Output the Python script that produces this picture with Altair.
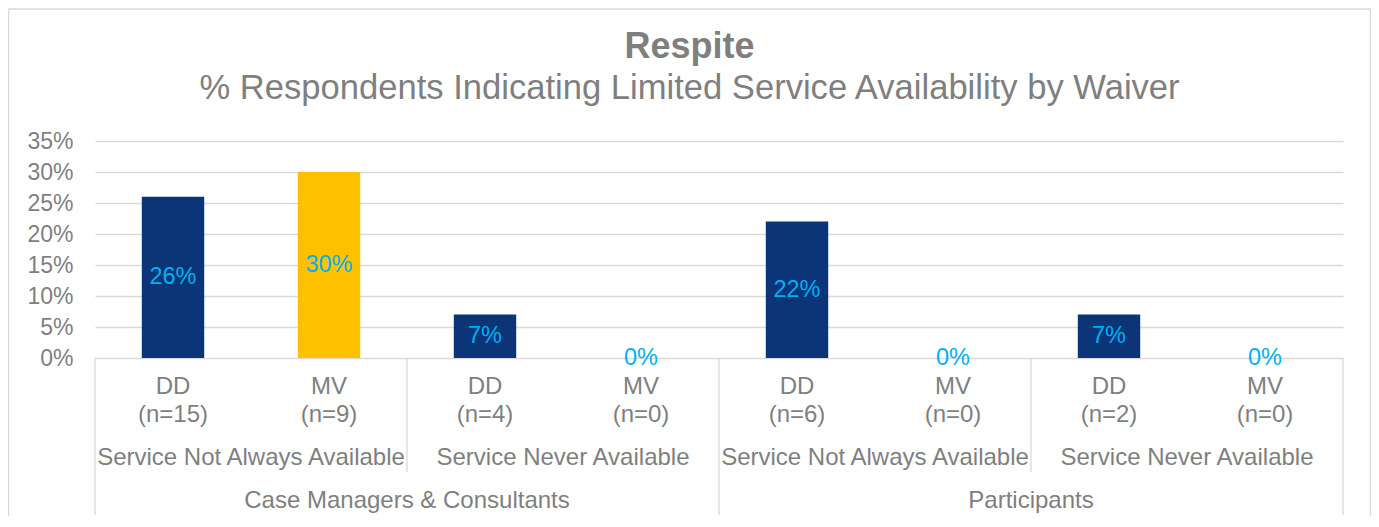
import altair as alt
import pandas as pd

# ---- data ----
respondent_groups = ["Case Managers & Consultants"] * 4 + ["Participants"] * 4
availability = ["Service Not Always Available", "Service Not Always Available",
                "Service Never Available", "Service Never Available",
                "Service Not Always Available", "Service Not Always Available",
                "Service Never Available", "Service Never Available"]
waivers = ["DD", "MV", "DD", "MV", "DD", "MV", "DD", "MV"]
n_counts = [15, 9, 4, 0, 6, 0, 2, 0]
percents = [0.26, 0.30, 0.07, 0.0, 0.22, 0.0, 0.07, 0.0]
y_ticks = [0, 0.05, 0.10, 0.15, 0.20, 0.25, 0.30, 0.35]
title_text = "Respite"
subtitle_text = "% Respondents Indicating Limited Service Availability by Waiver"

NAVY = "#0B3577"
GOLD = "#FFC000"
CYAN = "#00B0F0"
GRAY = "#7F7F7F"
LINE = "#D9D9D9"
FONT = "Liberation Sans"

W, H = 1248, 217

df = pd.DataFrame({
    "group": respondent_groups,
    "avail": availability,
    "waiver": waivers,
    "n": n_counts,
    "pct": percents,
})
df["idx"] = range(len(df))
df["nlabel"] = ["(n=%d)" % v for v in df["n"]]
df["vlabel"] = [f"{round(v * 100)}%" for v in df["pct"]]

# level-2 and level-3 label/boundary tables derived from the lists
lvl2 = df.groupby(["group", "avail"], sort=False)["idx"].agg(["min", "max"]).reset_index()
lvl2["mid"] = (lvl2["min"] + lvl2["max"] + 1) / 2
lvl3 = df.groupby(["group"], sort=False)["idx"].agg(["min", "max"]).reset_index()
lvl3["mid"] = (lvl3["min"] + lvl3["max"] + 1) / 2

b3 = sorted(set(list(lvl3["min"]) + [lvl3["max"].max() + 1]))
b2 = sorted(set(list(lvl2["min"]) + [lvl2["max"].max() + 1]) - set(b3))
bounds2 = pd.DataFrame({"b": b2})
bounds3 = pd.DataFrame({"b": b3})

xscale = alt.Scale(domain=[0, len(df)], nice=False, zero=False)
yscale = alt.Scale(domain=[0, 0.35], nice=False)
yaxis = alt.Axis(values=y_ticks, format=".0%", title=None, domain=False,
                 ticks=False, labelFontSize=23, labelColor=GRAY, labelFont=FONT,
                 labelPadding=22, labelOverlap=False, gridColor=LINE, gridWidth=1.3)


def X(field):
    return alt.X(field, scale=xscale, axis=None)


base = alt.Chart(df)

bars = base.transform_calculate(
    x1="datum.idx + 0.3", x2="datum.idx + 0.7"
).mark_bar().encode(
    x=X("x1:Q"),
    x2="x2:Q",
    y=alt.Y("pct:Q", scale=yscale, axis=yaxis),
    y2=alt.datum(0),
    color=alt.Color("waiver:N", scale=alt.Scale(domain=["DD", "MV"], range=[NAVY, GOLD]),
                    legend=None),
)

bar_labels = base.transform_calculate(
    xc="datum.idx + 0.5", half="datum.pct / 2"
).mark_text(font=FONT, fontSize=23.5, color=CYAN, baseline="middle").encode(
    x=X("xc:Q"),
    y=alt.Y("half:Q", scale=yscale, axis=yaxis),
    text="vlabel:N",
)

LBL = 24

cat1 = base.transform_calculate(xc="datum.idx + 0.5").mark_text(
    font=FONT, fontSize=LBL, color=GRAY, baseline="alphabetic"
).encode(x=X("xc:Q"), y=alt.value(253), text="waiver:N")

cat2 = base.transform_calculate(xc="datum.idx + 0.5").mark_text(
    font=FONT, fontSize=LBL, color=GRAY, baseline="alphabetic"
).encode(x=X("xc:Q"), y=alt.value(280.5), text="nlabel:N")

lab2 = alt.Chart(lvl2).mark_text(
    font=FONT, fontSize=LBL, color=GRAY, baseline="alphabetic"
).encode(x=X("mid:Q"), y=alt.value(324), text="avail:N")

lab3 = alt.Chart(lvl3).mark_text(
    font=FONT, fontSize=LBL, color=GRAY, baseline="alphabetic"
).encode(x=X("mid:Q"), y=alt.value(367), text="group:N")

sep2 = alt.Chart(bounds2).mark_rule(color=LINE, strokeWidth=1.3).encode(
    x=X("b:Q"), y=alt.value(H), y2=alt.value(331))
sep3 = alt.Chart(bounds3).mark_rule(color=LINE, strokeWidth=1.3).encode(
    x=X("b:Q"), y=alt.value(H), y2=alt.value(374))

tdf = pd.DataFrame({"t": [title_text], "s": [subtitle_text]})
title = alt.Chart(tdf).mark_text(
    font=FONT, fontSize=36, fontWeight="bold", color=GRAY, baseline="alphabetic", align="center"
).encode(x=alt.value(594.5), y=alt.value(-83), text="t:N")
subtitle = alt.Chart(tdf).mark_text(
    font=FONT, fontSize=34.6, color=GRAY, baseline="alphabetic", align="center"
).encode(x=alt.value(594.5), y=alt.value(-42), text="s:N")

# outer chart frame
frame_l = alt.Chart(tdf).mark_rule(color=LINE, strokeWidth=1.5).encode(
    x=alt.value(-86.5), y=alt.value(-132), y2=alt.value(400))
frame_r = alt.Chart(tdf).mark_rule(color=LINE, strokeWidth=1.5).encode(
    x=alt.value(1275.5), y=alt.value(-132), y2=alt.value(400))
frame_t = alt.Chart(tdf).mark_rule(color=LINE, strokeWidth=1.5).encode(
    x=alt.value(-86.5), x2=alt.value(1275.5), y=alt.value(-132))

chart = alt.layer(
    bars, bar_labels, cat1, cat2, lab2, lab3, sep2, sep3, title, subtitle,
    frame_l, frame_r, frame_t
).properties(
    width=W, height=H,
    autosize=alt.AutoSizeParams(type="none"),
    padding={"left": 87, "top": 133, "right": 28, "bottom": 158},
).configure(background="white").configure_view(strokeWidth=0, stroke="transparent")

chart.save("out.html", embed_options={"renderer": "svg", "actions": False})
